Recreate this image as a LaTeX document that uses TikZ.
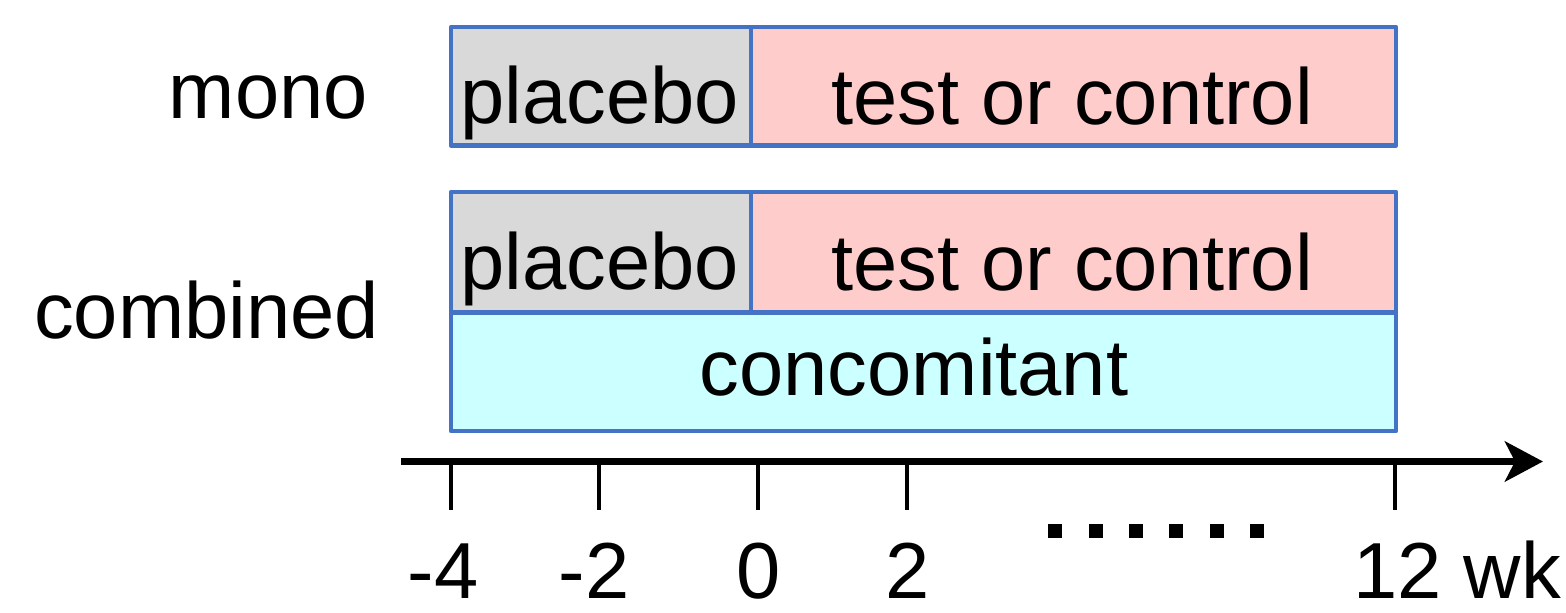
\documentclass[tikz,border=0pt]{standalone}
\usepackage{fontspec}
\setmainfont{Liberation Sans}
\usetikzlibrary{arrows.meta}
\definecolor{bordercol}{RGB}{68,114,196}
\definecolor{placebocol}{RGB}{217,217,217}
\definecolor{testcol}{RGB}{255,204,204}
\definecolor{concol}{RGB}{204,255,255}
\begin{document}
\begin{tikzpicture}[x=1pt,y=-1pt,
  every node/.style={font=\fontsize{79.5}{92}\selectfont},
  cell/.style={draw=bordercol,line width=4.5pt,line join=round,inner sep=0pt,outer sep=0pt},
  lbl/.style={anchor=base,inner sep=0pt},
  tick/.style={line width=4pt},
  dot/.style={fill=black,inner sep=0pt,minimum size=14pt}]
\useasboundingbox (0,0) rectangle (1566,613);
% boxes
\path[cell,fill=placebocol] (451,27) rectangle (751,145.5);
\path[cell,fill=testcol] (751,27) rectangle (1396,145.5);
\path[cell,fill=placebocol] (451,192) rectangle (751,312.5);
\path[cell,fill=testcol] (751,192) rectangle (1396,312.5);
\path[cell,fill=concol] (451,312.5) rectangle (1396,431);
% box texts
\node[lbl] (p1) at (600,123) {placebo};
\node[lbl] (t1) at (1072,124) {test or control};
\node[lbl] (p2) at (600,289) {placebo};
\node[lbl] (t2) at (1072,290) {test or control};
\node[lbl] (c2) at (914,395) {concomitant};
% row labels
\node[anchor=base east,inner sep=0pt] (mono) at (368,118) {mono};
\node[anchor=base east,inner sep=0pt] (comb) at (379,338) {combined};
% axis
\coordinate (a0) at (401,461.5);
\coordinate (a1) at (1543,461.5);
\draw[line width=7.5pt,-{Stealth[length=38pt,width=40pt,inset=10pt]}] (a0) -- (a1);
\foreach \x/\n in {451/m4,599/m2,758/z,907/p2,1395/p12}{
  \coordinate (t\n) at (\x,463);
  \coordinate (b\n) at (\x,510);
  \draw[tick] (t\n) -- (b\n);
}
% tick labels
\node[lbl] (lm4) at (443,598) {-4};
\node[lbl] (lm2) at (594,598) {-2};
\node[lbl] (lz) at (759,598) {0};
\node[lbl] (lp2) at (908,598) {2};
\node[lbl] (lp12) at (1457,598) {12 wk};
% dots
\foreach \x [count=\i] in {1055,1096,1136,1176,1217,1257}{
  \node[dot] (d\i) at (\x,531) {};
}
\end{tikzpicture}
\end{document}
